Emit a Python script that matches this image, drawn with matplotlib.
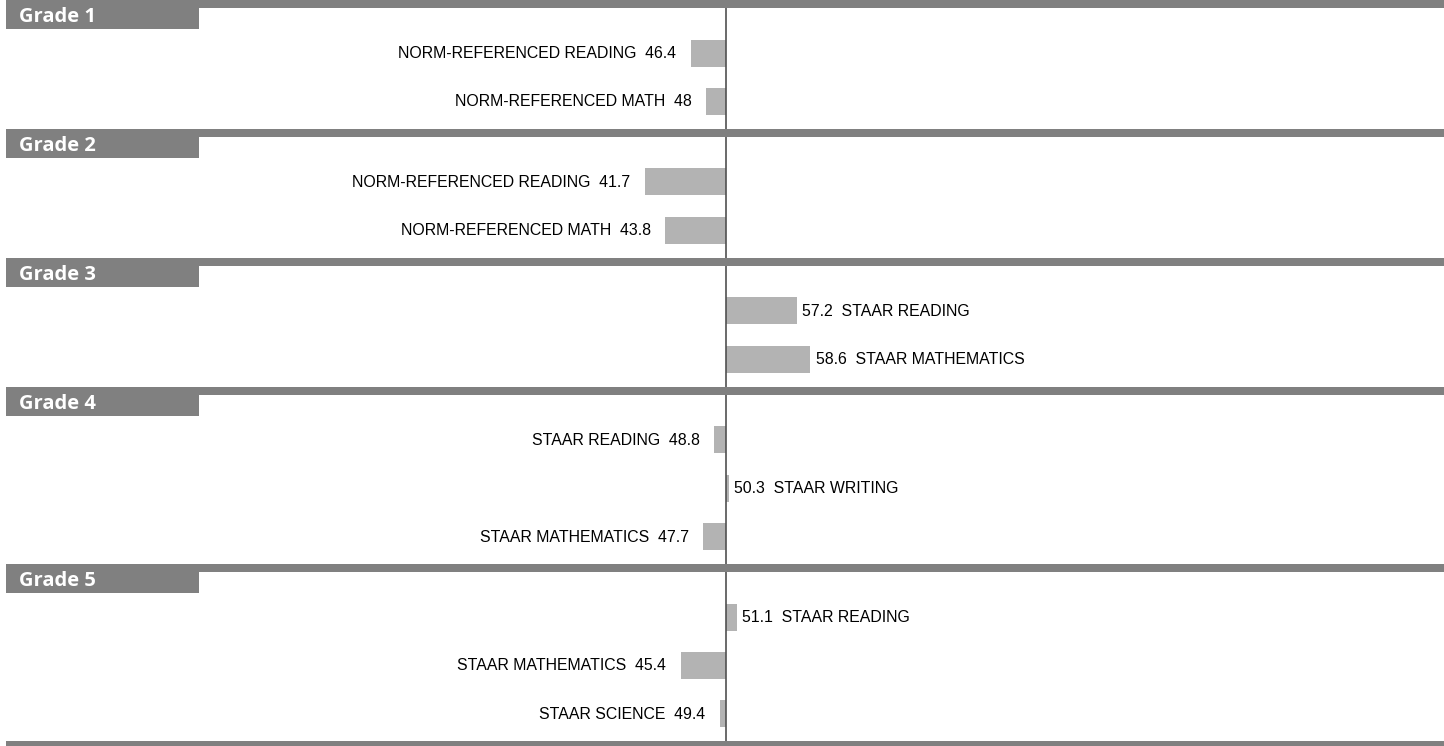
import matplotlib
matplotlib.use("Agg")
import matplotlib.pyplot as plt
from matplotlib.patches import Rectangle

# data
grades = ["Grade 1", "Grade 2", "Grade 3", "Grade 4", "Grade 5"]
tests = [
    ["NORM-REFERENCED READING", "NORM-REFERENCED MATH"],
    ["NORM-REFERENCED READING", "NORM-REFERENCED MATH"],
    ["STAAR READING", "STAAR MATHEMATICS"],
    ["STAAR READING", "STAAR WRITING", "STAAR MATHEMATICS"],
    ["STAAR READING", "STAAR MATHEMATICS", "STAAR SCIENCE"],
]
scores = [
    [46.4, 48],
    [41.7, 43.8],
    [57.2, 58.6],
    [48.8, 50.3, 47.7],
    [51.1, 45.4, 49.4],
]
center = 50

# layout (vertical units are pixels)
W, H = 1444, 746
HEAD, STEP, TAIL = 53, 48.4, 27.5
BAND = 8
TAB_H = 29
px_per_unit = 9.8
x_mid = 726

band_col = "#808080"
bar_col = "#b3b3b3"
line_col = "#505050"

fig = plt.figure(figsize=(W / 100, H / 100), dpi=100)
ax = fig.add_axes([0, 0, 1, 1])
ax.set_xlim(center - x_mid / px_per_unit, center + (W - x_mid) / px_per_unit)
ax.set_ylim(H, 0)
ax.axis("off")

ytr = ax.get_yaxis_transform()
x0 = 6 / W
tab_w = (199 - 6) / W

y = 0
for g, labs, vals in zip(grades, tests, scores):
    ax.add_patch(Rectangle((x0, y), 1 - x0, BAND, transform=ytr,
                           color=band_col, lw=0, zorder=3))
    ax.add_patch(Rectangle((x0, y), tab_w, TAB_H, transform=ytr,
                           color=band_col, lw=0, zorder=3))
    ax.text(19 / W, y + TAB_H / 2 + 3, g, transform=ytr, color="white",
            fontsize=14.5, fontweight="bold", family="Open Sans",
            va="center", ha="left", zorder=4)
    rows = [y + HEAD + i * STEP for i in range(len(vals))]
    ax.barh(rows, [v - center for v in vals], left=center, height=27,
            color=bar_col, zorder=2)
    for r, lab, v in zip(rows, labs, vals):
        if v < center:
            ax.annotate(f"{lab}  {v:g}", (v, r + 0.5), xytext=(-10.5, 0),
                        textcoords="offset points", ha="right", va="center",
                        fontsize=11.4, family="Liberation Sans", color="#000000")
        else:
            ax.annotate(f"{v:g}  {lab}", (v, r + 0.5), xytext=(4, 0),
                        textcoords="offset points", ha="left", va="center",
                        fontsize=11.4, family="Liberation Sans", color="#000000")
    y = rows[-1] + TAIL

# bottom rule
ax.add_patch(Rectangle((x0, y), 1 - x0, BAND, transform=ytr,
                       color=band_col, lw=0, zorder=3))

ax.plot([center, center], [0, y], color=line_col, lw=1.2, zorder=2.5)

fig.savefig("out.png", dpi=100)
